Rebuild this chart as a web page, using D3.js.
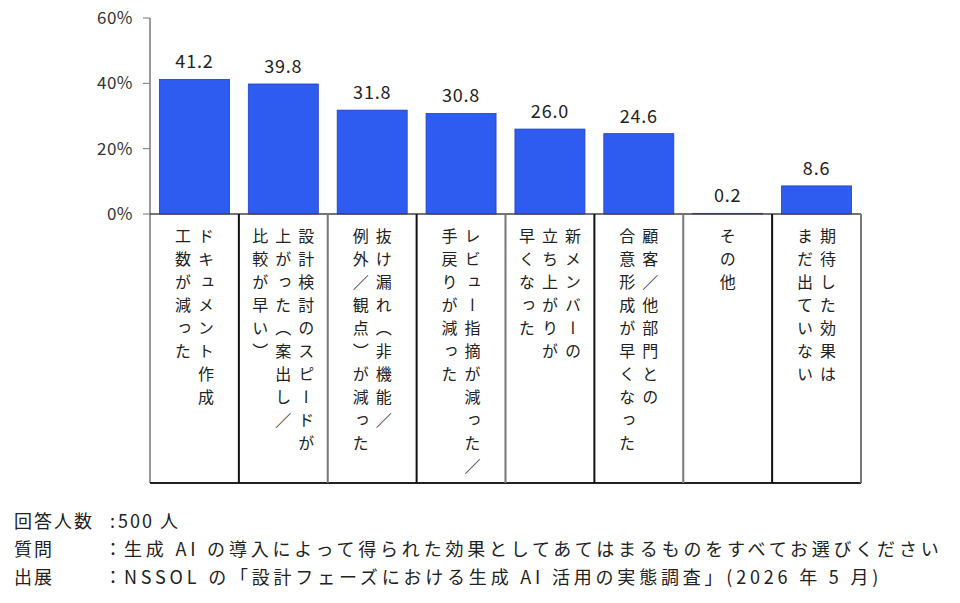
<!DOCTYPE html>
<html><head><meta charset="utf-8">
<script src="https://cdn.jsdelivr.net/npm/d3@7"></script>
<style>body{margin:0;background:#fff}text{font-family:"Noto Sans CJK JP","Noto Sans",sans-serif}</style>
</head><body><svg id="c" width="960" height="603"></svg>
<script>
const categories=[["ドキュメント作成","工数が減った"],["設計検討のスピードが","上がった（案出し／","比較が早い）"],["抜け漏れ（非機能／","例外／観点）が減った"],["レビュー指摘が減った／","手戻りが減った"],["新メンバーの","立ち上がりが","早くなった"],["顧客／他部門との","合意形成が早くなった"],["その他"],["期待した効果は","まだ出ていない"]];
const values=[41.2,39.8,31.8,30.8,26.0,24.6,0.2,8.6];
const yTicks=[0,20,40,60];
const notes=[["回答人数",":"," 500 人"],["質問","：","生成 AI の導入によって得られた効果としてあてはまるものをすべてお選びください"],["出展","：","NSSOL の「設計フェーズにおける生成 AI 活用の実態調査」(2026 年 5 月)"]];
const svg=d3.select("#c");
const x=d3.scaleBand().domain(d3.range(values.length)).range([150,861]).paddingInner(0).paddingOuter(0);
const y=d3.scaleLinear().domain([0,60]).range([214,18]);
svg.selectAll(".g").data(yTicks).join("text").attr("x",133).attr("y",d=>y(d)+6).attr("text-anchor","end").attr("font-size",17).attr("letter-spacing",0.5).attr("fill","#333").text(d=>d+"%");
svg.append("line").attr("x1",150).attr("x2",150).attr("y1",18).attr("y2",483).attr("stroke","#777").attr("stroke-width",1.5);
svg.selectAll(".t").data(yTicks).join("line").attr("x1",143).attr("x2",150).attr("y1",d=>y(d)).attr("y2",d=>y(d)).attr("stroke","#777");
const bw=70;
svg.selectAll(".b").data(values).join("rect").attr("x",(d,i)=>x(i)+x.bandwidth()/2-bw/2).attr("width",bw).attr("y",d=>y(d)).attr("height",d=>y(0)-y(d)).attr("fill","#2f5cf0").attr("stroke","#1f3fc0").attr("stroke-width",0.8);
svg.selectAll(".v").data(values).join("text").attr("x",(d,i)=>x(i)+x.bandwidth()/2).attr("y",d=>y(d)-11).attr("text-anchor","middle").attr("font-size",18).attr("letter-spacing",0.8).attr("fill","#222").text(d=>d.toFixed(1));
svg.append("line").attr("x1",150).attr("x2",861).attr("y1",214).attr("y2",214).attr("stroke","#444").attr("stroke-width",1.5);
svg.append("line").attr("x1",150).attr("x2",861).attr("y1",483).attr("y2",483).attr("stroke","#222").attr("stroke-width",2);
d3.range(1,values.length+1).forEach(i=>{const xx=i<values.length?x(i):861;svg.append("line").attr("x1",xx).attr("x2",xx).attr("y1",214).attr("y2",483).attr("stroke",i%2?"#111":"#777").attr("stroke-width",2);});
categories.forEach((cols,i)=>{const cx=x(i)+x.bandwidth()/2;const n=cols.length;const sp=23;
cols.forEach((s,j)=>{const px=cx+((n-1)/2-j)*sp;
svg.append("text").attr("x",px).attr("y",228).attr("writing-mode","vertical-rl").attr("font-size",16).attr("letter-spacing",7).attr("fill","#222").attr("dominant-baseline","central").text(s);});});
notes.forEach((n,i)=>{const yy=528+i*28;
svg.append("text").attr("x",14).attr("y",yy).attr("font-size",18).attr("letter-spacing",2).attr("fill","#222").text(n[0]);
svg.append("text").attr("x",i===0?110:104).attr("y",yy).attr("font-size",18).attr("fill","#222").text(n[1]);
svg.append("text").attr("x",i===0?118:124).attr("y",yy).attr("font-size",18).attr("letter-spacing",i===0?2:3.8).attr("fill","#222").text(n[2]);});
</script></body></html>
